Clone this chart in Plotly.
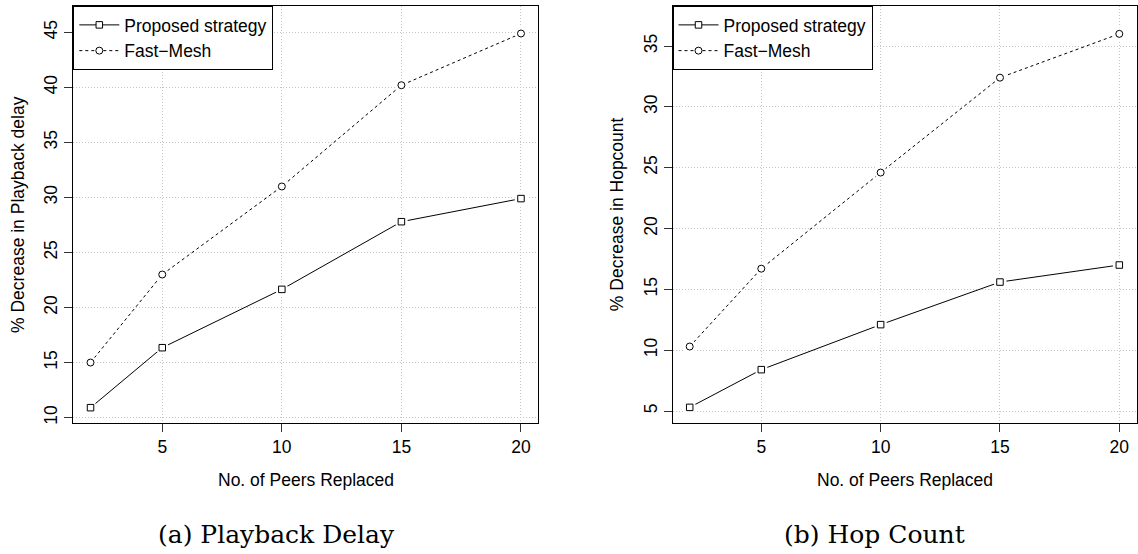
import plotly.graph_objects as go

# ---------------- data ----------------
peers = [2, 5, 10, 15, 20]
delay_proposed = [10.9, 16.35, 21.65, 27.8, 29.9]
delay_fastmesh = [15.0, 23.0, 31.0, 40.2, 44.9]
hop_proposed = [5.3, 8.4, 12.1, 15.6, 17.0]
hop_fastmesh = [10.3, 16.7, 24.6, 32.4, 36.0]

series_names = ["Proposed strategy", "Fast\u2212Mesh"]
x_ticks = [5, 10, 15, 20]
delay_ticks = [10, 15, 20, 25, 30, 35, 40, 45]
hop_ticks = [5, 10, 15, 20, 25, 30, 35]
x_title = "No. of Peers Replaced"
y_titles = ["% Decrease in Playback delay", "% Decrease in Hopcount"]
captions = ["(a) Playback Delay", "(b) Hop Count"]

# ---------------- layout helpers ----------------
W, H = 1138, 554
def px(x):
    return x / W
def py(y):
    return 1 - y / H

SANS = "Liberation Sans, Arial, Helvetica, sans-serif"
SERIF = "DejaVu Serif, Liberation Serif, serif"
FS = 17.5

panels = [
    dict(x0=73.3, x1=538.2, yrange=[9.48, 47.4], yticks=delay_ticks,
         data=[delay_proposed, delay_fastmesh], legend="legend", cap_x=276),
    dict(x0=672.5, x1=1136.5, yrange=[3.99, 38.29], yticks=hop_ticks,
         data=[hop_proposed, hop_fastmesh], legend="legend2", cap_x=874),
]
TOP, BOTTOM = 6, 423.3

styles = [
    dict(dash="solid", symbol="square", size=6.5),
    dict(dash="3px,3px", symbol="circle", size=7),
]

fig = go.Figure()
annotations = []

for i, p in enumerate(panels):
    xa = "x" if i == 0 else "x2"
    ya = "y" if i == 0 else "y2"
    # lines + markers (legend entries)
    for s, (name, vals) in enumerate(zip(series_names, p["data"])):
        st = styles[s]
        fig.add_trace(go.Scatter(
            x=peers, y=vals, name=name, mode="lines+markers",
            xaxis=xa, yaxis=ya, legend=p["legend"],
            line=dict(color="black", width=1, dash=st["dash"]),
            marker=dict(symbol=st["symbol"], size=st["size"], color="white",
                        line=dict(color="black", width=1)),
        ))
    # white halos to leave the small gap around points (R type="b")
    for s, vals in enumerate(p["data"]):
        fig.add_trace(go.Scatter(
            x=peers, y=vals, mode="markers", showlegend=False, hoverinfo="skip",
            xaxis=xa, yaxis=ya,
            marker=dict(symbol="circle", size=13, color="white", line=dict(width=0)),
        ))
    # open point symbols on top
    for s, vals in enumerate(p["data"]):
        st = styles[s]
        fig.add_trace(go.Scatter(
            x=peers, y=vals, mode="markers", showlegend=False, hoverinfo="skip",
            xaxis=xa, yaxis=ya,
            marker=dict(symbol=st["symbol"], size=st["size"], color="white",
                        line=dict(color="black", width=1)),
        ))

    axis_common = dict(
        showline=True, mirror=True, linecolor="black", linewidth=1,
        ticks="outside", ticklen=8, tickwidth=1, tickcolor="#333333",
        showgrid=True, gridcolor="#c4c4c4", griddash="1px,2px", gridwidth=1,
        zeroline=False, tickfont=dict(family=SANS, size=FS, color="black"),
    )
    xkey = "xaxis" if i == 0 else "xaxis2"
    ykey = "yaxis" if i == 0 else "yaxis2"
    fig.update_layout(**{
        xkey: dict(domain=[px(p["x0"]), px(p["x1"])], range=[1.28, 20.72],
                   tickmode="array", tickvals=x_ticks, anchor=ya, **axis_common),
        ykey: dict(domain=[py(BOTTOM), py(TOP)], range=p["yrange"],
                   tickmode="array", tickvals=p["yticks"], tickangle=-90,
                   anchor=xa, **axis_common),
    })

    cx = (p["x0"] + p["x1"]) / 2
    annotations.append(dict(
        text=x_title, x=px(cx), y=py(480), xref="paper", yref="paper",
        showarrow=False, xanchor="center", yanchor="middle",
        font=dict(family=SANS, size=FS, color="black")))
    annotations.append(dict(
        text=y_titles[i], x=px(p["x0"] - 56), y=py((TOP + BOTTOM) / 2),
        xref="paper", yref="paper", showarrow=False, textangle=-90,
        xanchor="center", yanchor="middle",
        font=dict(family=SANS, size=FS, color="black")))
    annotations.append(dict(
        text=captions[i], x=px(p["cap_x"]), y=py(534), xref="paper", yref="paper",
        showarrow=False, xanchor="center", yanchor="middle",
        font=dict(family=SERIF, size=25, color="black")))

legend_common = dict(
    xanchor="left", yanchor="top", bgcolor="white",
    bordercolor="black", borderwidth=1, tracegroupgap=0, itemwidth=40,
    font=dict(family=SANS, size=FS, color="black"),
)
fig.update_layout(
    width=W, height=H, autosize=False,
    margin=dict(l=0, r=0, t=0, b=0),
    paper_bgcolor="white", plot_bgcolor="white",
    showlegend=True,
    legend=dict(x=px(panels[0]["x0"]), y=py(TOP), **legend_common),
    legend2=dict(x=px(panels[1]["x0"]), y=py(TOP), **legend_common),
    annotations=annotations,
)

fig.write_html("out.html", config={"displayModeBar": False},
               post_script="document.body.style.margin='0';")
